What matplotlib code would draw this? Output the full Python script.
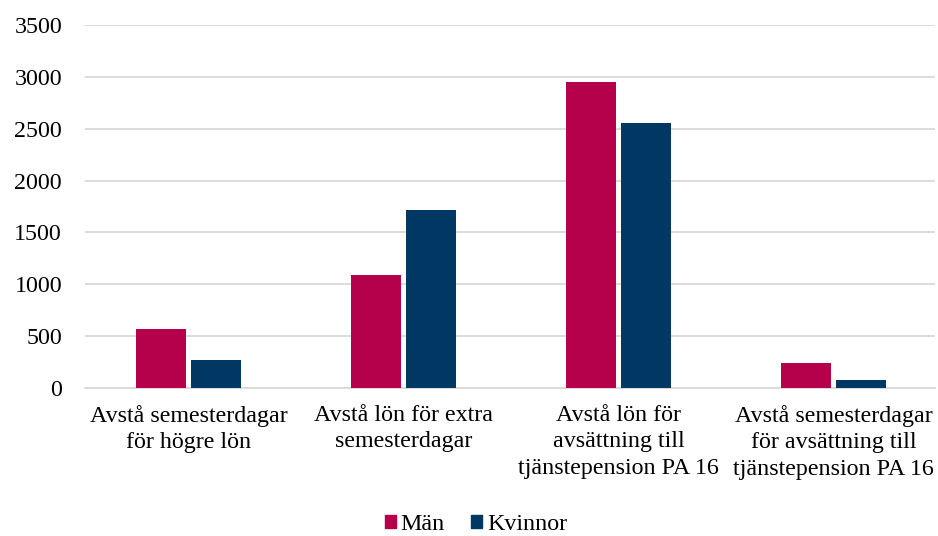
import matplotlib
matplotlib.use("Agg")
import matplotlib.pyplot as plt
import numpy as np
from matplotlib.patches import Patch

categories = ["Avstå semesterdagar\nför högre lön",
              "Avstå lön för extra\nsemesterdagar",
              "Avstå lön för\navsättning till\ntjänstepension PA 16",
              "Avstå semesterdagar\nför avsättning till\ntjänstepension PA 16"]
man = [565, 1090, 2950, 242]
kvinnor = [272, 1718, 2558, 77]
yticks = [0, 500, 1000, 1500, 2000, 2500, 3000, 3500]
series_names = ["Män", "Kvinnor"]
colors = ["#B5004B", "#003864"]

plt.rcParams['font.family'] = ['Liberation Serif', 'DejaVu Serif']
FS = 17.3

fig = plt.figure(figsize=(9.38, 5.36), dpi=100)
ax = fig.add_axes([85/938, (536-388)/536, 850/938, 363/536])

x = np.arange(len(categories))
w = 50/215
off = 27.5/215
ax.bar(x - off, man, width=w, color=colors[0], zorder=3)
ax.bar(x + off, kvinnor, width=w, color=colors[1], zorder=3)

ax.set_xlim(-(188.5-85)/215, 3 + (935-833.5)/215)
ax.set_ylim(0, 3500)
ax.set_yticks(yticks)
ax.set_yticklabels([str(v) for v in yticks], fontsize=FS)
ax.yaxis.grid(True, color="#d9d9d9", linewidth=1.3, zorder=0)
ax.set_axisbelow(True)
for s in ["top", "right", "left"]:
    ax.spines[s].set_visible(False)
ax.spines["bottom"].set_color("#d9d9d9")
ax.spines["bottom"].set_linewidth(1.3)
ax.tick_params(axis="both", length=0)
ax.tick_params(axis="y", pad=16.5)
ax.set_xticks(x)
ax.set_xticklabels(categories, fontsize=FS, linespacing=1.36, va="top")
ax.tick_params(axis="x", pad=12)

handles = [Patch(color=c, label=n) for c, n in zip(colors, series_names)]
fig.legend(handles=handles, loc="center", bbox_to_anchor=(476/938, 1 - 525/536),
           ncol=2, frameon=False, fontsize=FS, handlelength=0.45, handleheight=0.45,
           handletextpad=0.2, columnspacing=1.1)

fig.savefig("out.png", dpi=100)
